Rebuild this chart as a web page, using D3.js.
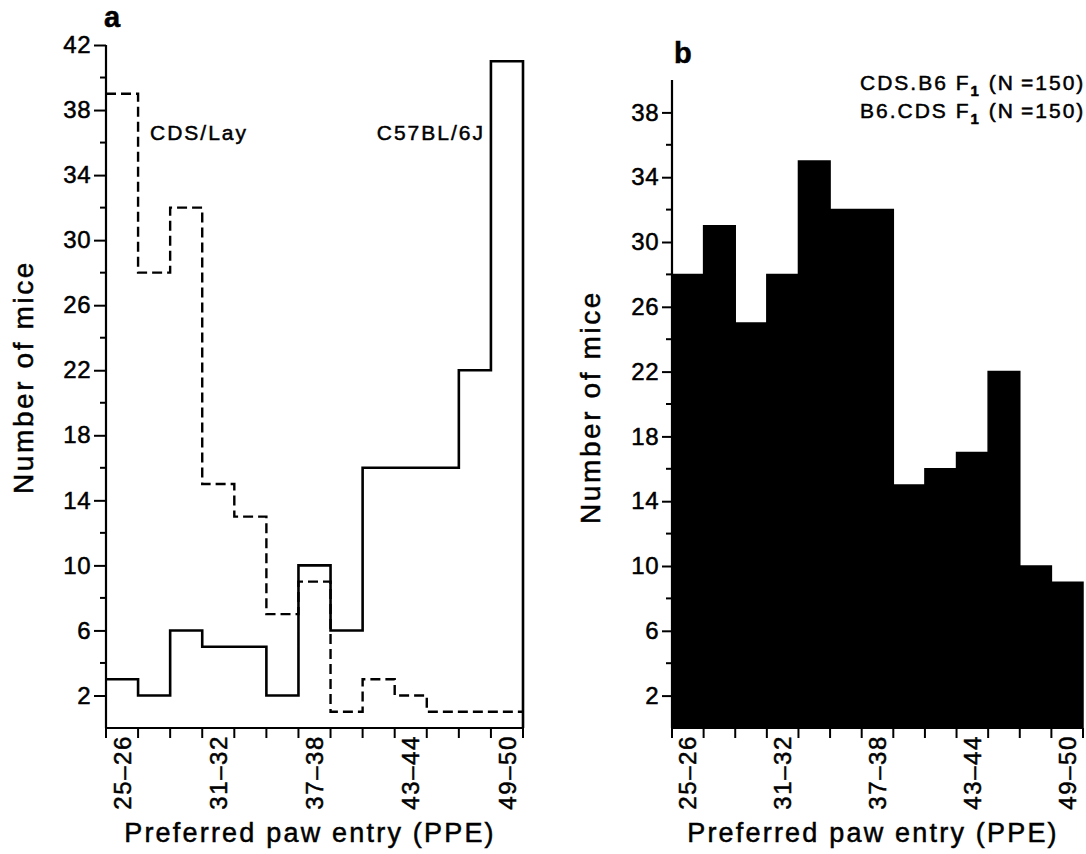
<!DOCTYPE html>
<html lang="en">
<head>
<meta charset="UTF-8">
<title>Preferred paw entry histograms</title>
<script src="https://d3js.org/d3.v7.min.js"></script>
<style>
  body { margin: 0; background: #fff; }
  svg text { font-family: "Liberation Sans", Arial, sans-serif; fill: #000; stroke: #000; stroke-width: 0.5px; }
  .tick-label { font-size: 24px; letter-spacing: 0.5px; }
  .xlab { font-size: 24px; letter-spacing: 1.6px; }
  .title { font-size: 27px; letter-spacing: 2.2px; }
  .ytitle { font-size: 28px; letter-spacing: 2.6px; }
  .note { font-size: 21px; letter-spacing: 2px; }
  .panel { font-size: 29px; font-weight: bold; }
</style>
</head>
<body>
<div id="chart"></div>
<script>
// bins of preferred paw entry
const bins = ["25-26", "27-28", "29-30", "31-32", "33-34", "35-36", "37-38",
              "39-40", "41-42", "43-44", "45-46", "47-48", "49-50"];
const labelledBins = ["25-26", "31-32", "37-38", "43-44", "49-50"];

// panel a
const c57Counts = [3, 2, 6, 5, 5, 2, 10, 6, 16, 16, 16, 22, 41];
const cdsCounts = [39, 28, 32, 15, 13, 7, 9, 1, 3, 2, 1, 1, 1];
const aMajorTicks = [2, 6, 10, 14, 18, 22, 26, 30, 34, 38, 42];
const aMinorTicks = [4, 8, 12, 16, 20, 24, 28, 32, 36, 40];

// panel b (F1 hybrids)
const f1Counts = [28, 31, 25, 28, 35, 32, 32, 15, 16, 17, 22, 10, 9];
const bMajorTicks = [2, 6, 10, 14, 18, 22, 26, 30, 34, 38];
const bMinorTicks = [4, 8, 12, 16, 20, 24, 28, 32, 36];

const svg = d3.select("#chart").append("svg")
    .attr("width", 1086).attr("height", 854);

function drawPanel(opt) {
    const x = d3.scaleLinear().domain([0, bins.length]).range([opt.left, opt.right]);
    const y = d3.scaleLinear().domain([0, opt.ymax]).range([728, opt.top]);
    const g = svg.append("g");

    // y axis
    g.append("g")
        .attr("transform", `translate(${opt.left},0)`)
        .call(d3.axisLeft(y).tickValues(opt.major).tickSize(opt.tickLen).tickPadding(3).tickSizeOuter(0))
        .call(s => s.select(".domain").remove())
        .call(s => s.selectAll("line").attr("stroke-width", 2))
        .call(s => s.selectAll("text").attr("class", "tick-label"));
    g.append("g")
        .attr("transform", `translate(${opt.left},0)`)
        .selectAll("line").data(opt.minor).join("line")
        .attr("x1", -6).attr("x2", 0)
        .attr("y1", d => y(d)).attr("y2", d => y(d))
        .attr("stroke", "#000").attr("stroke-width", 2);
    g.append("line")
        .attr("x1", opt.left).attr("x2", opt.left)
        .attr("y1", y(0)).attr("y2", y(opt.ymax))
        .attr("stroke", "#000").attr("stroke-width", 2.2);

    // x axis
    g.append("line")
        .attr("x1", x(0)).attr("x2", x(bins.length))
        .attr("y1", y(0)).attr("y2", y(0))
        .attr("stroke", "#000").attr("stroke-width", 2.2);
    g.selectAll(".xtick").data(d3.range(bins.length + 1)).join("line")
        .attr("x1", d => x(d)).attr("x2", d => x(d))
        .attr("y1", y(0)).attr("y2", y(0) + 10)
        .attr("stroke", "#000").attr("stroke-width", 2);
    g.selectAll(".xlab").data(labelledBins).join("text")
        .attr("class", "xlab")
        .attr("transform", d => `translate(${x(bins.indexOf(d) + 0.5)},${y(0) + 7}) rotate(-90)`)
        .attr("text-anchor", "end")
        .attr("dy", "0.36em")
        .text(d => d.replace("-", "\u2013"));

    g.append("text").attr("class", "title")
        .attr("x", opt.titleX).attr("y", 842)
        .attr("text-anchor", "middle")
        .text("Preferred paw entry (PPE)");
    g.append("text").attr("class", "ytitle")
        .attr("transform", `translate(${opt.yTitleX},${opt.yTitleY}) rotate(-90)`)
        .attr("text-anchor", "middle")
        .text("Number of mice");
    g.append("text").attr("class", "panel")
        .attr("x", opt.panelX).attr("y", opt.panelY)
        .text(opt.panel);
    return { g, x, y };
}

function stepPoints(counts, x, y) {
    const pts = counts.map((v, i) => [x(i), y(v)]);
    pts.push([x(counts.length), y(counts[counts.length - 1])]);
    return pts;
}

// ---- panel a
const a = drawPanel({
    left: 106, right: 523, top: 45, ymax: 42,
    major: aMajorTicks, minor: aMinorTicks, tickLen: 12,
    titleX: 310, yTitleX: 33, yTitleY: 377,
    panel: "a", panelX: 104, panelY: 27
});
const stepLine = d3.line().curve(d3.curveStepAfter);
const cdsPts = stepPoints(cdsCounts, a.x, a.y);
a.g.append("path")
    .attr("d", stepLine(cdsPts))
    .attr("fill", "none").attr("stroke", "#000")
    .attr("stroke-width", 2.4).attr("stroke-dasharray", "10,5");
const c57Pts = stepPoints(c57Counts, a.x, a.y);
c57Pts.push([a.x(bins.length), a.y(0)]);
a.g.append("path")
    .attr("d", stepLine(c57Pts))
    .attr("fill", "none").attr("stroke", "#000")
    .attr("stroke-width", 2.6);
a.g.append("text").attr("class", "note")
    .attr("x", 150).attr("y", 140).text("CDS/Lay");
a.g.append("text").attr("class", "note")
    .attr("x", 485).attr("y", 140).attr("text-anchor", "end").text("C57BL/6J");

// ---- panel b
const b = drawPanel({
    left: 672, right: 1083, top: 80, ymax: 40,
    major: bMajorTicks, minor: bMinorTicks, tickLen: 10,
    titleX: 873, yTitleX: 600, yTitleY: 407,
    panel: "b", panelX: 674, panelY: 63
});
const stepArea = d3.area().curve(d3.curveStepAfter)
    .x(d => d[0]).y1(d => d[1]).y0(b.y(0));
b.g.append("path")
    .attr("d", stepArea(stepPoints(f1Counts, b.x, b.y)))
    .attr("fill", "#000").attr("stroke", "#000").attr("stroke-width", 1.5);

const legend = ["CDS.B6", "B6.CDS"];
legend.forEach((name, i) => {
    const t = b.g.append("text").attr("class", "note")
        .attr("x", 860).attr("y", 90 + i * 28);
    t.append("tspan").text(name + " F");
    t.append("tspan").attr("dy", 6).style("font-size", "15px").style("font-weight", "bold").text("1");
    t.append("tspan").attr("dy", -6).text(" (N\u2009=150)");
});
</script>
</body>
</html>
